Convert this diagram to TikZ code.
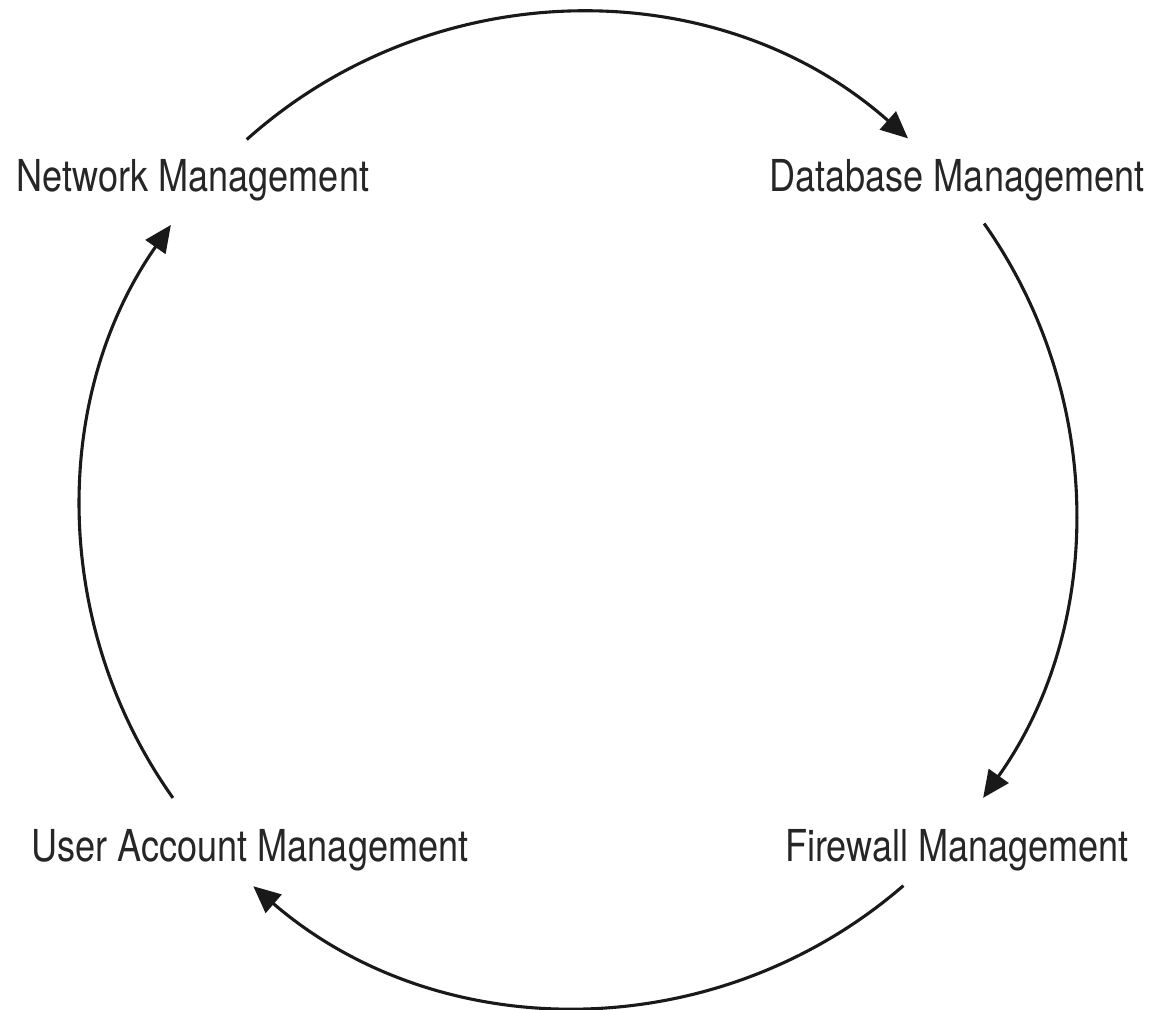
\documentclass[tikz,border=0pt]{standalone}
\usepackage{fontspec}
\setmainfont{TeX Gyre Heros}[FakeStretch=0.82]
\usetikzlibrary{arrows.meta}
\begin{document}
\begin{tikzpicture}[x=1pt,y=1pt,
  lbl/.style={anchor=base, inner sep=0pt, text=black!85, font=\fontsize{44}{50}\selectfont},
  cyc/.style={line width=3.1pt, black!90, -{Triangle[length=27pt,width=24pt]}}]
\useasboundingbox[fill=white] (0,0) rectangle (1150,1009);
\coordinate (c) at (578,499);
\node[lbl] (net) at (193,817) {Network Management};
\node[lbl] (db)  at (957,817) {Database Management};
\node[lbl] (fw)  at (957,148) {Firewall Management};
\node[lbl] (ua)  at (250,148) {User Account Management};
\draw[cyc] (c) ++(131.8:497) coordinate (s1) arc[start angle=131.8, end angle=48.4, radius=497];
\draw[cyc] (c) ++(35.2:497) coordinate (s2) arc[start angle=35.2, end angle=-35.4, radius=497];
\draw[cyc] (c) ++(-49.1:497) coordinate (s3) arc[start angle=-49.1, end angle=-130.8, radius=497];
\draw[cyc] (c) ++(-144.6:497) coordinate (s4) arc[start angle=-144.6, end angle=-215, radius=497];
\end{tikzpicture}
\end{document}
